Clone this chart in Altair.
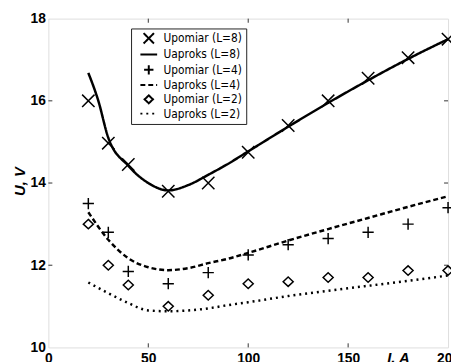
import altair as alt
import pandas as pd

# measured points
x_meas = [20, 30, 40, 60, 80, 100, 120, 140, 160, 180, 200]
u8_meas = [16.0, 14.97, 14.45, 13.8, 14.0, 14.75, 15.4, 16.0, 16.55, 17.05, 17.5]
u4_meas = [13.5, 12.8, 11.85, 11.55, 11.82, 12.25, 12.5, 12.65, 12.8, 13.0, 13.4]
u2_meas = [13.0, 12.0, 11.52, 11.0, 11.27, 11.55, 11.6, 11.7, 11.7, 11.87, 11.87]

# approximation curves
x_fit8 = [20, 25, 30, 40, 50, 60, 70, 80, 90, 100, 120, 140, 160, 180, 200]
u8_fit = [16.68, 16.0, 15.1, 14.42, 14.0, 13.82, 13.95, 14.2, 14.47, 14.77, 15.37, 15.95, 16.5, 17.02, 17.5]
x_fit = [20, 30, 40, 50, 60, 70, 80, 90, 100, 120, 140, 160, 180, 200]
u4_fit = [13.29, 12.62, 12.17, 11.95, 11.88, 11.93, 12.05, 12.16, 12.3, 12.6, 12.88, 13.15, 13.42, 13.68]
u2_fit = [11.58, 11.32, 11.08, 10.9, 10.88, 10.9, 10.95, 11.03, 11.1, 11.25, 11.38, 11.5, 11.62, 11.75]

labels = ["Upomiar (L=8)", "Uaproks (L=8)", "Upomiar (L=4)",
          "Uaproks (L=4)", "Upomiar (L=2)", "Uaproks (L=2)"]

x_ticks = [50, 100, 150]
y_ticks = [12, 14, 16]

X_PATH = "M-1.05,-1.05L1.05,1.05M-1.05,1.05L1.05,-1.05"
PLUS_PATH = "M-0.95,0L0.95,0M0,-0.95L0,0.95"
DIAM_PATH = "M0,-0.8L0.85,0L0,0.8L-0.85,0Z"
LINE_PATH = "M-1.7,0L1.7,0"

pts = pd.concat([
    pd.DataFrame({"I": x_meas, "U": u8_meas, "s": labels[0]}),
    pd.DataFrame({"I": x_meas, "U": u4_meas, "s": labels[2]}),
    pd.DataFrame({"I": x_meas, "U": u2_meas, "s": labels[4]}),
])
fits = pd.concat([
    pd.DataFrame({"I": x_fit8, "U": u8_fit, "s": labels[1]}),
    pd.DataFrame({"I": x_fit, "U": u4_fit, "s": labels[3]}),
    pd.DataFrame({"I": x_fit, "U": u2_fit, "s": labels[5]}),
])

xs = alt.Scale(domain=[0, 200], nice=False, zero=False)
ys = alt.Scale(domain=[10, 18], nice=False, zero=False)

legend = alt.Legend(
    orient="none", legendX=84, legendY=10, title=None,
    strokeColor="#222", fillColor="white", padding=4,
    symbolSize=100, symbolStrokeWidth=2, symbolStrokeColor="black",
    symbolFillColor="transparent", symbolOffset=8,
    labelFont="DejaVu Sans Condensed", labelFontSize=12, labelColor="black",
    labelOffset=9, rowPadding=0.5, labelLimit=300,
)

shape_scale = alt.Scale(domain=labels,
                        range=[X_PATH, LINE_PATH, PLUS_PATH, LINE_PATH, DIAM_PATH, LINE_PATH])
dash_scale = alt.Scale(domain=labels,
                       range=[[1, 0], [1, 0], [1, 0], [5, 3], [1, 0], [2, 4]])

xaxis = alt.Axis(values=[0, 50, 100, 150, 200], tickSize=0, domain=False, grid=False,
                 labelFont="Liberation Sans", labelFontWeight="bold", labelFontSize=14,
                 labelColor="black", labelPadding=4, labelFlush=False,
                 title="I, A", titleFont="Liberation Sans", titleFontSize=15,
                 titleFontWeight="bold", titleFontStyle="italic", titleColor="black",
                 titleX=355, titleY=3, titleBaseline="top", titleAlign="center")
yaxis = alt.Axis(values=[10, 12, 14, 16, 18], tickSize=0, domain=False, grid=False,
                 labelFont="Liberation Sans", labelFontWeight="bold", labelFontSize=14,
                 labelColor="black", labelPadding=3, labelFlush=False,
                 title="U, V", titleFont="Liberation Sans", titleFontSize=15,
                 titleFontWeight="bold", titleFontStyle="italic", titleColor="black",
                 titleX=-24, titleY=165, titleBaseline="alphabetic", titleAlign="center",
                 titleAngle=270)

lines = alt.Chart(fits).mark_line(color="black", strokeWidth=2.5, interpolate="monotone").encode(
    x=alt.X("I:Q", scale=xs, axis=xaxis),
    y=alt.Y("U:Q", scale=ys, axis=yaxis),
    strokeDash=alt.StrokeDash("s:N", scale=dash_scale, legend=legend),
    detail="s:N",
)

points = alt.Chart(pts).mark_point(filled=False, color="black", strokeWidth=1.5, size=144, opacity=1).encode(
    x=alt.X("I:Q", scale=xs),
    y=alt.Y("U:Q", scale=ys),
    shape=alt.Shape("s:N", scale=shape_scale, legend=legend),
)

# inward tick marks on all four sides
bt = pd.DataFrame({"I": x_ticks, "a": [10.0] * 3, "b": [10.1] * 3})
tt = pd.DataFrame({"I": x_ticks, "a": [17.9] * 3, "b": [18.0] * 3})
lt = pd.DataFrame({"U": y_ticks, "a": [0.0] * 3, "b": [2.0] * 3})
rt = pd.DataFrame({"U": y_ticks, "a": [198.0] * 3, "b": [200.0] * 3})
tick_x = alt.layer(*[alt.Chart(d).mark_rule(color="#333", strokeWidth=1).encode(
    x=alt.X("I:Q", scale=xs), y=alt.Y("a:Q", scale=ys), y2="b:Q") for d in (bt, tt)])
tick_y = alt.layer(*[alt.Chart(d).mark_rule(color="#333", strokeWidth=1).encode(
    y=alt.Y("U:Q", scale=ys), x=alt.X("a:Q", scale=xs), x2="b:Q") for d in (lt, rt)])

chart = alt.layer(tick_x, tick_y, lines, points).properties(
    width=406, height=334,
    autosize=alt.AutoSizeParams(type="none"),
    padding={"left": 41, "top": 8, "right": 3, "bottom": 12},
).configure_view(stroke="#333", strokeWidth=1.3).configure(background="white")

chart.save("out.html", embed_options={"renderer": "svg", "actions": False})
